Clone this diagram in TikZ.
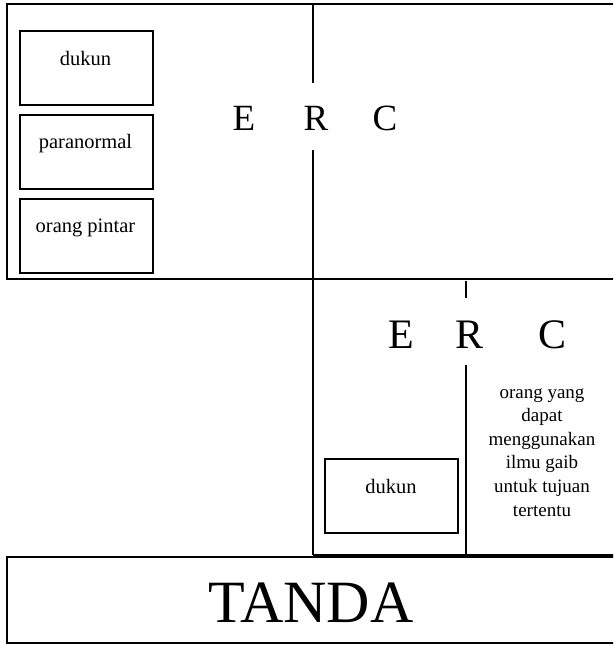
\documentclass[tikz,border=0pt]{standalone}
\usepackage{fontspec}
\setmainfont{Liberation Serif}
\begin{document}
\begin{tikzpicture}[x=1pt,y=-1pt,
  frame/.style={draw=black,line width=1.8pt},
  smallbox/.style={draw=black,line width=1.7pt,minimum width=133pt,minimum height=74pt,inner sep=0pt,anchor=north west},
  boxtext/.style={font=\fontsize{20.5}{24}\selectfont,anchor=base,inner sep=0pt},
  desctext/.style={font=\fontsize{19}{23.6}\selectfont,align=center,anchor=base,inner sep=0pt},
  bigletter/.style={font=\fontsize{37}{40}\selectfont,anchor=base,inner sep=0pt},
  biggerletter/.style={font=\fontsize{42}{46}\selectfont,anchor=base,inner sep=0pt},
  tandatext/.style={font=\fontsize{60}{64}\selectfont,anchor=base,inner sep=0pt}]
\useasboundingbox (0,0) rectangle (613,645);
\fill[white] (0,0) rectangle (613,645);
\clip (0,0) rectangle (613,645);
% top region
\draw[frame] (7,4) rectangle (625,279);
\coordinate (v1a) at (313,4);
\coordinate (v1b) at (313,83);
\coordinate (v1c) at (313,150);
\coordinate (v1d) at (313,555);
\draw[frame] (v1a) -- (v1b);
\draw[frame] (v1c) -- (v1d);
% boxes left
\node[smallbox] (b1) at (19,30) {};
\node[smallbox] (b2) at (19,114) {};
\node[smallbox] (b3) at (19,198) {};
\node[boxtext] (t1) at (85.5,65) {dukun};
\node[boxtext] (t2) at (85.5,148) {paranormal};
\node[boxtext] (t3) at (85.5,232) {orang pintar};
% ERC top
\node[bigletter] (e1) at (244,130) {E};
\node[bigletter] (r1) at (316,130) {R};
\node[bigletter] (c1) at (385,130) {C};
% lower section
\coordinate (ls1) at (313,555);
\coordinate (ls2) at (625,555);
\draw[frame] (ls1) -- (ls2);
\coordinate (v2a) at (466,281);
\coordinate (v2b) at (466,298);
\coordinate (v2c) at (466,365);
\coordinate (v2d) at (466,555);
\draw[frame] (v2a) -- (v2b);
\draw[frame] (v2c) -- (v2d);
\node[biggerletter] (e2) at (401,348) {E};
\node[biggerletter] (r2) at (470,348) {R};
\node[biggerletter] (c2) at (552,348) {C};
\node[smallbox] (b4) at (324,458) {};
\node[boxtext] (t4) at (391,493) {dukun};
\node[desctext] (t5) at (542,516) {orang yang\\dapat\\menggunakan\\ilmu gaib\\untuk tujuan\\tertentu};
% TANDA
\draw[frame] (7,557) rectangle (625,643);
\node[tandatext] (tanda) at (311,622) {TANDA};
\end{tikzpicture}
\end{document}
